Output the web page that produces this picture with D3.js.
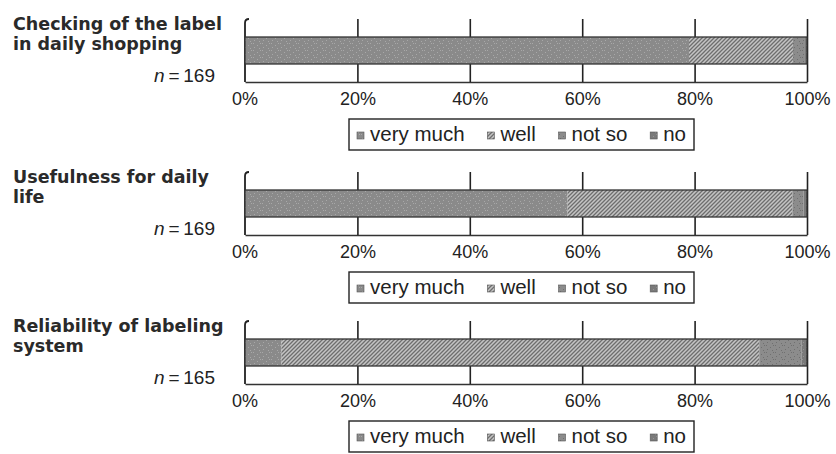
<!DOCTYPE html>
<html><head><meta charset="utf-8">
<script src="https://cdn.jsdelivr.net/npm/d3@7"></script>
<style>
html,body{margin:0;padding:0;background:#fff;}
svg{display:block;}
</style></head>
<body>
<svg id="chart" width="836" height="454"></svg>
<script>
// ---- data ----
const titleLines = [
  ["Checking of the label", "in daily shopping"],
  ["Usefulness for daily", "life"],
  ["Reliability of labeling", "system"]
];
const nValues = [169, 169, 165];
const seriesNames = ["very much", "well", "not so", "no"];
const veryMuch = [79, 57.4, 6.5];
const well = [18.5, 40, 85];
const notSo = [2, 2, 7.5];
const no = [0.5, 0.6, 1];
const tickValues = [0, 20, 40, 60, 80, 100];

// ---- layout ----
const panelOffsets = [0, 153, 302];
const L = {x0: 245, x1: 807, hookTop: 19, barTop: 37, barBottom: 64, axisY: 82,
  titleX: 13, titleY: [30, 50], nX: 215, nY: 82,
  legX0: 349, legX1: 694, legY0: 119, legY1: 150, legFont: 20.5, swatch: 7, swatchGap: 6};

const svg = d3.select("#chart");
const defs = svg.append("defs");

function hatch(id, bg, line, step, sw) {
  const p = defs.append("pattern").attr("id", id).attr("patternUnits", "userSpaceOnUse")
    .attr("width", step).attr("height", step);
  p.append("rect").attr("width", step).attr("height", step).attr("fill", bg);
  p.append("path").attr("d", `M0,${step} L${step},0 M${-step/2},${step/2} L${step/2},${-step/2} M${step/2},${step*1.5} L${step*1.5},${step/2}`)
    .attr("stroke", line).attr("stroke-width", sw);
}
function speckle(id, bg, dot) {
  const p = defs.append("pattern").attr("id", id).attr("patternUnits", "userSpaceOnUse")
    .attr("width", 9).attr("height", 7);
  p.append("rect").attr("width", 9).attr("height", 7).attr("fill", bg);
  [[1,1],[5,3],[2,5],[7,6],[8,1]].forEach(([a,b]) =>
    p.append("rect").attr("x", a).attr("y", b).attr("width", 1).attr("height", 1).attr("fill", dot));
}
speckle("pVery", "#8a8a8a", "#a8a8a8");
hatch("pWell", "#c4c4c4", "#6e6e6e", 4, 1.3);
speckle("pNotSo", "#8c8c8c", "#707070");
speckle("pNo", "#7a7a7a", "#959595");
const fills = ["url(#pVery)", "url(#pWell)", "url(#pNotSo)", "url(#pNo)"];
const seriesValues = [veryMuch, well, notSo, no];

const x = d3.scaleLinear().domain([0, 100]).range([L.x0, L.x1]);
const ink = "#222";

// measure legend text to distribute items evenly inside the box
const meas = svg.append("text").attr("font-family", "Liberation Sans, Arial").attr("font-size", L.legFont);
const textW = seriesNames.map(n => { meas.text(n); return meas.node().getComputedTextLength(); });
meas.remove();
const inner = (L.legX1 - L.legX0) - 16;
const itemW = textW.map(w => L.swatch + L.swatchGap + w);
const gap = (inner - d3.sum(itemW)) / (seriesNames.length - 1);
const itemX = [];
itemW.reduce((acc, w, k) => { itemX[k] = acc; return acc + w + gap; }, L.legX0 + 8);

panelOffsets.forEach((off, i) => {
  const g = svg.append("g").attr("transform", `translate(0,${off})`);

  titleLines[i].forEach((t, k) => {
    g.append("text").attr("x", L.titleX).attr("y", L.titleY[k])
      .attr("font-family", "DejaVu Sans").attr("font-weight", "bold")
      .attr("font-size", 17.5).attr("fill", "#2a2a2a").text(t);
  });
  const nt = g.append("text").attr("x", L.nX).attr("y", L.nY).attr("text-anchor", "end")
    .attr("font-family", "Liberation Sans, Arial").attr("font-size", 19).attr("fill", ink);
  nt.append("tspan").attr("font-style", "italic").text("n");
  nt.append("tspan").text("\u2009=\u2009" + nValues[i]);

  const axis = d3.axisBottom(x).tickValues(tickValues.slice(1)).tickFormat(d => d + "%")
    .tickSize(-(L.axisY - L.hookTop)).tickSizeOuter(0).tickPadding(10);
  const ag = g.append("g").attr("transform", `translate(0,${L.axisY})`).call(axis);
  ag.select(".domain").attr("stroke", "#333").attr("stroke-width", 1.3);
  ag.selectAll(".tick line").attr("stroke", ink).attr("stroke-width", 1.6);
  ag.selectAll(".tick text").attr("font-family", "Liberation Sans, Arial")
    .attr("font-size", 18).attr("fill", ink);
  ag.append("text").attr("x", x(tickValues[0])).attr("y", 10).attr("dy", "0.71em")
    .attr("text-anchor", "middle").attr("font-family", "Liberation Sans, Arial")
    .attr("font-size", 18).attr("fill", ink).text(tickValues[0] + "%");

  const p = d3.path();
  p.moveTo(x(0), L.axisY);
  p.lineTo(x(0), L.hookTop + 4);
  p.quadraticCurveTo(x(0), L.hookTop, x(0) + 4, L.hookTop);
  g.append("path").attr("d", p.toString()).attr("fill", "none").attr("stroke", ink).attr("stroke-width", 1.8);

  let cum = 0;
  seriesValues.forEach((vals, s) => {
    const v = vals[i];
    g.append("rect").attr("x", x(cum)).attr("y", L.barTop)
      .attr("width", x(cum + v) - x(cum)).attr("height", L.barBottom - L.barTop)
      .attr("fill", fills[s]);
    cum += v;
  });
  g.append("rect").attr("x", x(0)).attr("y", L.barTop).attr("width", x(100) - x(0))
    .attr("height", L.barBottom - L.barTop).attr("fill", "none")
    .attr("stroke", "#333").attr("stroke-width", 1.3);

  g.append("rect").attr("x", L.legX0).attr("y", L.legY0)
    .attr("width", L.legX1 - L.legX0).attr("height", L.legY1 - L.legY0)
    .attr("fill", "#fff").attr("stroke", ink).attr("stroke-width", 1.4);
  const cy = (L.legY0 + L.legY1) / 2;
  seriesNames.forEach((name, s) => {
    g.append("rect").attr("x", itemX[s]).attr("y", cy - 2.5)
      .attr("width", L.swatch).attr("height", L.swatch).attr("fill", fills[s])
      .attr("stroke", "#555").attr("stroke-width", 0.6);
    g.append("text").attr("x", itemX[s] + L.swatch + L.swatchGap).attr("y", cy + 6.5)
      .attr("font-family", "Liberation Sans, Arial").attr("font-size", L.legFont)
      .attr("fill", ink).text(name);
  });
});
</script>
</body></html>
